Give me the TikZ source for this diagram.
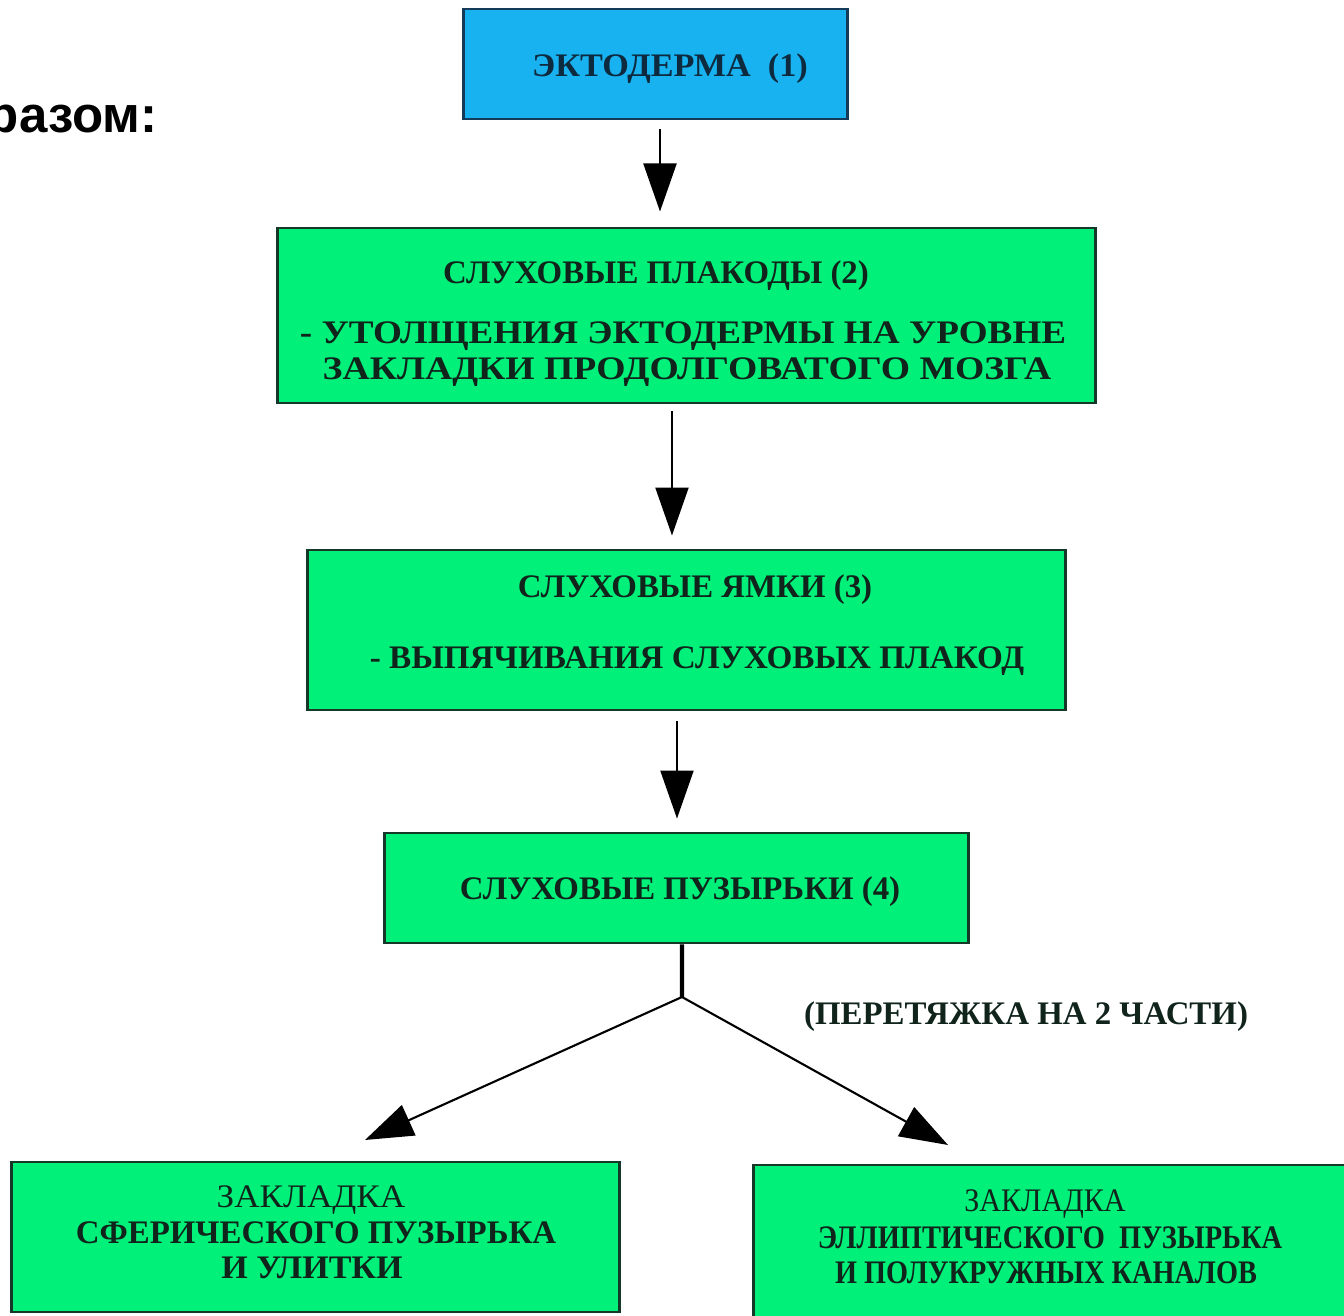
\documentclass[tikz,border=0pt]{standalone}
\usepackage{graphicx}
\usepackage{fontspec}
\setmainfont{Liberation Serif}
\newfontfamily\arialfont{Liberation Sans}
\usetikzlibrary{arrows.meta,calc}
\definecolor{cyanfill}{RGB}{24,178,240}
\definecolor{greenfill}{RGB}{0,240,122}
\definecolor{boxline}{RGB}{22,56,40}
\definecolor{cyanline}{RGB}{20,60,90}
\definecolor{txt}{RGB}{16,36,28}
\newcommand{\hsc}[2]{\scalebox{#1}[1]{#2}}
\begin{document}
\begin{tikzpicture}[x=0.01cm,y=-0.01cm,
  gbox/.style={draw=boxline,fill=greenfill,line width=0.8pt,inner sep=0pt},
  cbox/.style={draw=cyanline,fill=cyanfill,line width=0.8pt,inner sep=0pt},
  lbl/.style={anchor=base,inner sep=0pt,text=txt,font=\fontsize{9.35}{10}\selectfont\bfseries},
  lblr/.style={anchor=base,inner sep=0pt,text=txt,font=\fontsize{9.35}{10}\selectfont},
  arr/.style={line width=0.6pt,-{Triangle[length=0.48cm,width=0.33cm]}},
  stem/.style={line width=1.2pt}]
\useasboundingbox (0,0) rectangle (1344,1316);
\clip (0,0) rectangle (1344,1316);
\fill[white] (0,0) rectangle (1344,1316);
% boxes
\node[cbox,minimum width=3.83cm,minimum height=1.10cm] (b1) at (655.5,64) {};
\node[gbox,minimum width=8.17cm,minimum height=1.75cm] (b2) at (686.5,315.5) {};
\node[gbox,minimum width=7.57cm,minimum height=1.60cm] (b3) at (686.5,630) {};
\node[gbox,minimum width=5.83cm,minimum height=1.10cm] (b4) at (676.5,888) {};
\node[gbox,minimum width=6.07cm,minimum height=1.50cm] (b5) at (315.5,1237) {};
\node[gbox,minimum width=5.92cm,minimum height=1.53cm] (b6) at (1050,1241.5) {};
% texts
\node[anchor=base east,inner sep=0pt,font=\fontsize{14.5}{15}\selectfont\arialfont\bfseries] (head) at (158,133) {разом:};
\node[lbl,text=cyanline!70!black] (t1) at (670,77) {\hsc{1.04}{ЭКТОДЕРМА\ \ (1)}};
\node[lbl] (t2a) at (656,284) {СЛУХОВЫЕ ПЛАКОДЫ (2)};
\node[lbl] (t2b) at (683,344) {\hsc{1.13}{- УТОЛЩЕНИЯ ЭКТОДЕРМЫ НА УРОВНЕ}};
\node[lbl] (t2c) at (687,380) {\hsc{1.145}{ЗАКЛАДКИ ПРОДОЛГОВАТОГО МОЗГА}};
\node[lbl] (t3a) at (695,598) {СЛУХОВЫЕ ЯМКИ (3)};
\node[lbl] (t3b) at (697,669) {\hsc{1.01}{- ВЫПЯЧИВАНИЯ СЛУХОВЫХ ПЛАКОД}};
\node[lbl] (t4) at (680,900) {СЛУХОВЫЕ ПУЗЫРЬКИ (4)};
\node[lbl] (tsplit) at (1026,1025) {(ПЕРЕТЯЖКА НА 2 ЧАСТИ)};
\node[lblr] (t5a) at (311,1208) {\hsc{1.07}{ЗАКЛАДКА}};
\node[lbl] (t5b) at (316,1244) {СФЕРИЧЕСКОГО ПУЗЫРЬКА};
\node[lbl] (t5c) at (312,1279) {\hsc{1.035}{И УЛИТКИ}};
\node[lblr] (t6a) at (1045,1212) {\hsc{0.915}{ЗАКЛАДКА}};
\node[lbl] (t6b) at (1050,1249) {\hsc{0.865}{ЭЛЛИПТИЧЕСКОГО\ \ ПУЗЫРЬКА}};
\node[lbl] (t6c) at (1046,1284) {\hsc{0.86}{И ПОЛУКРУЖНЫХ КАНАЛОВ}};
% connectors
\draw[arr,shorten <=0.09cm,shorten >=0.15cm] ([xshift=0.045cm]b1.south) -- ([xshift=0.045cm]b1.south |- b2.north);
\draw[arr,shorten <=0.07cm,shorten >=0.13cm] ([xshift=-0.145cm]b2.south) -- ([xshift=-0.145cm]b2.south |- b3.north);
\draw[arr,shorten <=0.10cm,shorten >=0.13cm] ([xshift=-0.095cm]b3.south) -- ([xshift=-0.095cm]b3.south |- b4.north);
\coordinate (split) at (682,997);
\coordinate (tipL) at (365,1140);
\coordinate (tipR) at (948,1145);
\draw[stem] ([xshift=0.055cm]b4.south) -- (split);
\draw[arr] (split) -- (tipL);
\draw[arr] (split) -- (tipR);
\end{tikzpicture}
\end{document}
